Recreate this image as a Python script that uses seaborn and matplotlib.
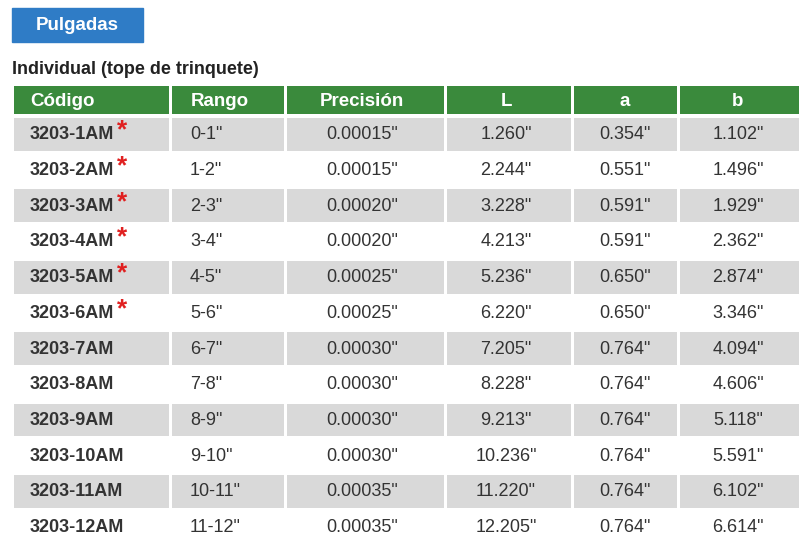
import matplotlib
matplotlib.use("Agg")
import matplotlib.pyplot as plt
import numpy as np
import seaborn as sns

codes = ["3203-1AM", "3203-2AM", "3203-3AM", "3203-4AM", "3203-5AM", "3203-6AM",
         "3203-7AM", "3203-8AM", "3203-9AM", "3203-10AM", "3203-11AM", "3203-12AM"]
starred = [True] * 6 + [False] * 6
rangos = ['0-1"', '1-2"', '2-3"', '3-4"', '4-5"', '5-6"', '6-7"', '7-8"', '8-9"',
          '9-10"', '10-11"', '11-12"']
precision = ['0.00015"', '0.00015"', '0.00020"', '0.00020"', '0.00025"', '0.00025"',
             '0.00030"', '0.00030"', '0.00030"', '0.00030"', '0.00035"', '0.00035"']
L = ['1.260"', '2.244"', '3.228"', '4.213"', '5.236"', '6.220"', '7.205"', '8.228"',
     '9.213"', '10.236"', '11.220"', '12.205"']
a = ['0.354"', '0.551"', '0.591"', '0.591"', '0.650"', '0.650"', '0.764"', '0.764"',
     '0.764"', '0.764"', '0.764"', '0.764"']
b = ['1.102"', '1.496"', '1.929"', '2.362"', '2.874"', '3.346"', '4.094"', '4.606"',
     '5.118"', '5.591"', '6.102"', '6.614"']
headers = ["Código", "Rango", "Precisión", "L", "a", "b"]

sns.set_theme(style="white")
plt.rcParams["font.family"] = ["Liberation Sans", "DejaVu Sans"]

fig = plt.figure(figsize=(8.11, 5.49), dpi=100)
ax = fig.add_axes([0, 0, 1, 1])
ax.set_xlim(0, 811)
ax.set_ylim(549, 0)
ax.axis("off")

col_edges = np.array([12, 170, 285, 445, 572, 678, 800])
top, row_h, head_top = 116, 35.7, 84
n = len(codes)
row_edges = top + np.arange(n + 1) * row_h

# title box and subtitle
ax.add_patch(plt.Rectangle((12, 8), 131, 34, color="#2f7cc6"))
ax.text(77, 26, "Pulgadas", color="white", fontsize=13.5, fontweight="bold", ha="center", va="center")
ax.text(12, 69, "Individual (tope de trinquete)", color="#222222", fontsize=13,
        fontweight="bold", va="center")

# header
ax.pcolormesh(col_edges, [head_top, top - 1], np.zeros((1, 6)),
              cmap=matplotlib.colors.ListedColormap(["#3a8a3c"]), edgecolors="white", linewidth=1)
head_x = [30, 220, 362, 506, 625, 738]
head_ha = ["left", "center", "center", "center", "center", "center"]
for x, h, ha in zip(head_x, headers, head_ha):
    ax.text(x, (head_top + top) / 2 + 1, h, color="white", fontsize=13.5, fontweight="bold",
            ha=ha, va="center")

# body shading
shade = np.array([[i % 2] * 6 for i in range(n)])
ax.pcolormesh(col_edges, row_edges, shade, cmap=matplotlib.colors.ListedColormap(["#d9d9d9", "#ffffff"]),
              edgecolors="white", linewidth=1)

txt = "#333333"
fs = 13
for i in range(n):
    y = (row_edges[i] + row_edges[i + 1]) / 2 + 1
    t = ax.text(30, y, codes[i], color=txt, fontsize=fs, fontweight="bold", va="center")
    if starred[i]:
        ax.annotate("*", xy=(1, 0.5), xycoords=t, xytext=(2, 3), textcoords="offset points",
                    color="#e02020", fontsize=19, fontweight="bold", va="center")
    ax.text(190, y, rangos[i], color=txt, fontsize=fs, va="center")
    ax.text(362, y, precision[i], color=txt, fontsize=fs, ha="center", va="center")
    ax.text(506, y, L[i], color=txt, fontsize=fs, ha="center", va="center")
    ax.text(625, y, a[i], color=txt, fontsize=fs, ha="center", va="center")
    ax.text(738, y, b[i], color=txt, fontsize=fs, ha="center", va="center")

fig.savefig("out.png", dpi=100)
